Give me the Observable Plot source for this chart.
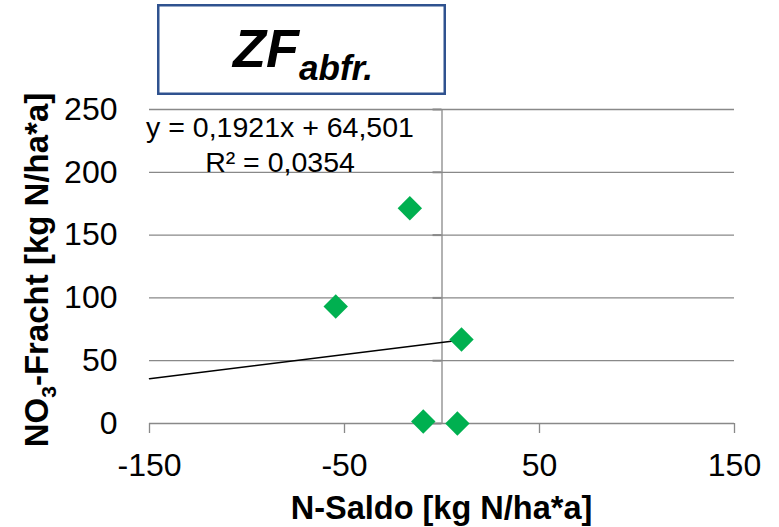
<!DOCTYPE html>
<html>
<head>
<meta charset="utf-8">
<script src="https://cdn.jsdelivr.net/npm/d3@7"></script>
<script src="https://cdn.jsdelivr.net/npm/@observablehq/plot@0.6"></script>
<style>
  html, body { margin: 0; padding: 0; background: #fff; }
  #chart { position: relative; width: 779px; height: 527px; }
</style>
</head>
<body>
<div id="chart"></div>
<script>
// ---- data ----
const nSaldo   = [-16.5, -54.5, 10.0, -9.6, 7.9];     // x: N-Saldo [kg N/ha*a]
const no3      = [171.4, 93.2, 66.9, 1.6, 0.0];       // y: NO3-Fracht [kg N/ha*a]
const xTicks   = [-150, -50, 50, 150];
const yTicks   = [0, 50, 100, 150, 200, 250];
const slope = 0.1921, intercept = 64.501;             // Excel trend line
const trendXs  = [-150, 10.0];                        // trend line extent
const eqLines  = ["y = 0,1921x + 64,501", "R² = 0,0354"];

const points = nSaldo.map((x, i) => ({x, y: no3[i]}));
const trend  = trendXs.map(x => ({x, y: slope * x + intercept}));

const grid = "#898989";
const font = "'Liberation Sans', Arial, sans-serif";
const fmt = d => String(d);

const svg = Plot.plot({
  width: 779, height: 527,
  marginLeft: 149, marginRight: 45, marginTop: 109, marginBottom: 104,
  style: {fontFamily: font, fontSize: "32px", color: "#000", background: "#fff", overflow: "visible"},
  x: {domain: [-150, 150]},
  y: {domain: [0, 250]},
  marks: [
    Plot.ruleY(yTicks, {stroke: grid, strokeWidth: 1.3}),
    Plot.ruleX([0], {stroke: grid, strokeWidth: 1.3}),
    Plot.ruleY(yTicks, {x1: -4.6, x2: 0, stroke: grid, strokeWidth: 2}),
    Plot.axisX(xTicks, {tickSize: 10, tickPadding: 20, stroke: grid, strokeWidth: 1.3, fill: "#000", fontSize: 32, tickFormat: fmt, label: null}),
    Plot.axisY(yTicks, {tickSize: 0, tickPadding: 32, fill: "#000", fontSize: 32, tickFormat: fmt, label: null}),
    Plot.line(trend, {x: "x", y: "y", stroke: "#000", strokeWidth: 1.5}),
    Plot.dot(points, {x: "x", y: "y", symbol: "diamond2", r: 11, fill: "#00B050", stroke: "none"})
  ]
});

const s = d3.select(svg);

// Title box
s.append("rect")
  .attr("x", 158.25).attr("y", 5.25).attr("width", 286.5).attr("height", 88.5)
  .attr("fill", "#fff").attr("stroke", "#2F528F").attr("stroke-width", 2.5);
const t = s.append("text")
  .attr("x", 303).attr("y", 67).attr("text-anchor", "middle")
  .attr("font-family", font).attr("font-weight", "bold").attr("font-style", "italic")
  .attr("font-size", 54).attr("fill", "#000");
t.append("tspan").text("ZF");
t.append("tspan").attr("font-size", 35).attr("dy", 13).text("abfr.");

// Regression equation
eqLines.forEach((line, i) => {
  s.append("text")
    .attr("x", 280).attr("y", 137 + i * 35).attr("text-anchor", "middle")
    .attr("font-family", font).attr("font-size", 28.5).attr("fill", "#000")
    .text(line);
});

// Y axis title with subscript
const yt = s.append("text")
  .attr("transform", "translate(47.5,270) rotate(-90)")
  .attr("text-anchor", "middle")
  .attr("font-family", font).attr("font-weight", "bold").attr("font-size", 33).attr("fill", "#000");
yt.append("tspan").text("NO");
yt.append("tspan").attr("font-size", 21).attr("dy", 8).text("3");
yt.append("tspan").attr("dy", -8).text("-Fracht [kg N/ha*a]");

// X axis title
s.append("text")
  .attr("x", 441.5).attr("y", 519).attr("text-anchor", "middle")
  .attr("font-family", font).attr("font-weight", "bold").attr("font-size", 32.5).attr("fill", "#000")
  .text("N-Saldo [kg N/ha*a]");

document.getElementById("chart").appendChild(svg);
</script>
</body>
</html>
